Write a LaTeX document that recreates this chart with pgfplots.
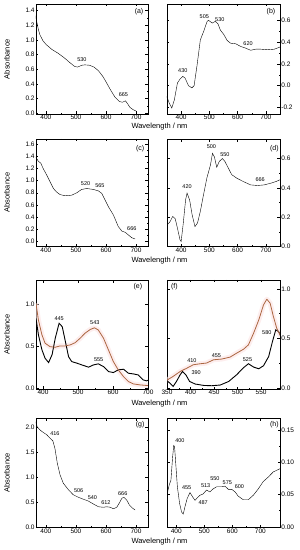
\documentclass[border=0pt]{standalone}
\usepackage{fontspec}
\setmainfont{Liberation Sans}
\usepackage{pgfplots}
\pgfplotsset{compat=1.18}
\definecolor{brn}{RGB}{172,102,66}
\definecolor{halo}{RGB}{252,226,226}
\tikzset{
 ann/.style={font=\fontsize{5.5}{6}\selectfont, inner sep=0pt},
 lett/.style={font=\fontsize{7}{8}\selectfont, inner sep=0pt},
}
\pgfplotsset{
 panel/.style={
  scale only axis,
  axis line style={line width=0.6pt},
  tick align=inside,
  major tick length=2.5pt,
  minor tick length=1.4pt,
  every tick/.style={line width=0.45pt, black},
  xtick pos=both, ytick pos=both,
  minor x tick num=1,
  minor y tick num=1,
  tick label style={font=\fontsize{6.5}{7}\selectfont, inner sep=1.2pt},
  /pgf/number format/assume math mode=true,
  y tick label style={/pgf/number format/fixed, /pgf/number format/precision=1, /pgf/number format/fixed zerofill},
  cycle list={{black, line width=0.9pt, no marks, line join=round}},
 },
 leftp/.style={panel, width=112pt, ylabel={Absorbance},
   every axis y label/.style={at={(axis description cs:-0.26,0.5)}, rotate=90, anchor=center, font=\fontsize{7.5}{9}\selectfont}},
 rightp/.style={panel, width=113pt, yticklabel pos=right},
 brnline/.style={brn, line width=0.8pt, no marks, line join=round},
 haloline/.style={halo, line width=5pt, opacity=0.6, no marks, line join=round},
}
\begin{document}
\begin{tikzpicture}
\useasboundingbox (0,0) rectangle (300pt,550pt);
% ---------- (a)
\begin{axis}[leftp, at={(36pt,436pt)}, anchor=south west, height=110pt,
  xmin=367, xmax=740, ymin=-0.01, ymax=1.49,
  xtick={400,500,600,700}, ytick={0,0.2,...,1.4}]
\addplot coordinates {(366,1.33)(370,1.24)(375,1.14)(380,1.07)(390,0.99)(400,0.94)(420,0.87)(440,0.82)(460,0.76)(480,0.69)(495,0.64)(505,0.63)(520,0.655)(530,0.66)(545,0.655)(560,0.63)(575,0.58)(590,0.50)(600,0.43)(615,0.32)(630,0.22)(645,0.16)(655,0.15)(665,0.17)(672,0.13)(680,0.08)(690,0.05)(700,0.03)};
\node[ann] at (axis cs:520,0.73) {530};
\node[ann] at (axis cs:658,0.25) {665};
\node[lett] at (rel axis cs:0.92,0.93) {(a)};
\end{axis}
% ---------- (b)
\begin{axis}[rightp, at={(167pt,436pt)}, anchor=south west, height=110pt,
  xmin=350, xmax=750, ymin=-0.26, ymax=0.75,
  xtick={400,500,600,700}, ytick={-0.2,0,0.2,0.4,0.6}]
\addplot coordinates {(349,-0.098)(358,-0.16)(367,-0.205)(376,-0.13)(387,0.025)(396,0.06)(406,0.085)(414,0.07)(426,0.0)(438,-0.02)(446,0.0)(456,0.18)(468,0.42)(480,0.50)(492,0.59)(497,0.60)(510,0.575)(521,0.59)(530,0.57)(539,0.51)(551,0.47)(563,0.415)(575,0.39)(593,0.385)(611,0.36)(628,0.345)(646,0.325)(664,0.335)(682,0.335)(706,0.33)(730,0.335)(750,0.355)};
\node[ann] at (axis cs:406,0.14) {430};
\node[ann] at (axis cs:482,0.63) {505};
\node[ann] at (axis cs:537,0.61) {530};
\node[ann] at (axis cs:637,0.385) {620};
\node[lett] at (rel axis cs:0.92,0.93) {(b)};
\end{axis}
% ---------- (c)
\begin{axis}[leftp, at={(36pt,303.5pt)}, anchor=south west, height=107.5pt,
  xmin=367, xmax=740, ymin=-0.09, ymax=1.69,
  xtick={400,500,600,700}, ytick={0,0.2,...,1.6}]
\addplot coordinates {(367,1.385)(375,1.32)(383,1.29)(391,1.20)(403,1.09)(414,0.98)(425,0.87)(436,0.81)(447,0.77)(464,0.75)(486,0.76)(503,0.80)(519,0.855)(536,0.87)(558,0.855)(575,0.83)(586,0.79)(597,0.68)(608,0.57)(625,0.43)(641,0.24)(653,0.165)(664,0.145)(675,0.10)(686,0.055)(697,0.035)};
\node[ann] at (axis cs:532,0.955) {520};
\node[ann] at (axis cs:580,0.91) {565};
\node[ann] at (axis cs:686,0.21) {666};
\node[lett] at (rel axis cs:0.93,0.91) {(c)};
\end{axis}
% ---------- (d)
\begin{axis}[rightp, at={(167pt,303.5pt)}, anchor=south west, height=107.5pt,
  xmin=350, xmax=750, ymin=0, ymax=0.733,
  xtick={400,500,600,700}, ytick={0,0.2,0.4,0.6}]
\addplot coordinates {(351,0.148)(361,0.17)(370,0.205)(379,0.19)(387,0.125)(396,0.046)(400,0.034)(407,0.148)(416,0.32)(421,0.364)(430,0.318)(439,0.216)(449,0.136)(458,0.16)(468,0.24)(479,0.35)(491,0.466)(504,0.557)(511,0.636)(518,0.61)(526,0.54)(535,0.58)(546,0.60)(555,0.58)(567,0.535)(579,0.49)(597,0.466)(620,0.443)(646,0.42)(670,0.416)(694,0.42)(718,0.432)(736,0.443)(750,0.455)};
\node[ann] at (axis cs:421,0.405) {420};
\node[ann] at (axis cs:507,0.68) {500};
\node[ann] at (axis cs:555,0.63) {550};
\node[ann] at (axis cs:680,0.455) {666};
\node[lett] at (rel axis cs:0.95,0.91) {(d)};
\end{axis}
% ---------- (e)
\begin{axis}[leftp, at={(36pt,161pt)}, anchor=south west, height=109pt,
  xmin=380, xmax=700, ymin=-0.01, ymax=1.29,
  xtick={400,500,600,700}, ytick={0,0.5,1.0}]
\addplot[haloline] coordinates {(380,1.01)(387,0.81)(397,0.635)(406,0.536)(420,0.495)(435,0.488)(449,0.504)(463,0.504)(478,0.516)(492,0.543)(506,0.595)(520,0.655)(535,0.70)(547,0.72)(558,0.694)(573,0.595)(587,0.456)(601,0.317)(615,0.218)(630,0.138)(644,0.079)(658,0.051)(677,0.039)(700,0.031)};
\addplot coordinates {(380,0.833)(387,0.635)(397,0.456)(406,0.357)(416,0.305)(426,0.40)(435,0.595)(446,0.774)(455,0.733)(463,0.575)(473,0.376)(482,0.317)(497,0.298)(511,0.277)(520,0.265)(530,0.25)(544,0.277)(558,0.29)(573,0.257)(587,0.198)(601,0.186)(615,0.218)(630,0.226)(644,0.178)(658,0.17)(672,0.158)(686,0.099)(696,0.087)(700,0.095)};
\addplot[brnline] coordinates {(380,1.01)(387,0.81)(397,0.635)(406,0.536)(420,0.495)(435,0.488)(449,0.504)(463,0.504)(478,0.516)(492,0.543)(506,0.595)(520,0.655)(535,0.70)(547,0.72)(558,0.694)(573,0.595)(587,0.456)(601,0.317)(615,0.218)(630,0.138)(644,0.079)(658,0.051)(677,0.039)(700,0.031)};
\node[ann] at (axis cs:446,0.833) {445};
\node[ann] at (axis cs:548,0.78) {543};
\node[ann] at (axis cs:559,0.337) {555};
\node[lett] at (rel axis cs:0.91,0.94) {(e)};
\end{axis}
% ---------- (f)
\begin{axis}[rightp, at={(167pt,161pt)}, anchor=south west, height=109pt,
  xmin=350, xmax=590, ymin=-0.01, ymax=1.09,
  xtick={350,400,450,500,550}, ytick={0,0.5,1.0}]
\addplot[haloline] coordinates {(349,0.077)(363,0.117)(378,0.167)(392,0.20)(406,0.235)(421,0.245)(434,0.252)(449,0.285)(466,0.292)(484,0.312)(498,0.352)(513,0.393)(523,0.436)(534,0.554)(545,0.688)(555,0.839)(562,0.896)(569,0.856)(576,0.721)(583,0.604)(592,0.52)};
\addplot coordinates {(349,0.077)(356,0.05)(363,0.016)(370,0.066)(378,0.134)(383,0.167)(390,0.134)(398,0.066)(410,0.04)(428,0.026)(445,0.023)(463,0.03)(481,0.066)(498,0.134)(513,0.207)(523,0.245)(534,0.211)(545,0.194)(555,0.225)(566,0.318)(574,0.469)(581,0.587)(587,0.57)(592,0.52)};
\addplot[brnline] coordinates {(349,0.077)(363,0.117)(378,0.167)(392,0.20)(406,0.235)(421,0.245)(434,0.252)(449,0.285)(466,0.292)(484,0.312)(498,0.352)(513,0.393)(523,0.436)(534,0.554)(545,0.688)(555,0.839)(562,0.896)(569,0.856)(576,0.721)(583,0.604)(592,0.52)};
\node[ann] at (axis cs:403,0.278) {410};
\node[ann] at (axis cs:455,0.325) {455};
\node[ann] at (axis cs:412,0.157) {390};
\node[ann] at (axis cs:521,0.29) {525};
\node[ann] at (axis cs:562,0.56) {580};
\node[lett] at (rel axis cs:0.065,0.94) {(f)};
\end{axis}
% ---------- (g)
\begin{axis}[leftp, at={(36pt,22.5pt)}, anchor=south west, height=109.2pt,
  xmin=367, xmax=740, ymin=-0.005, ymax=2.18,
  xtick={400,500,600,700}, ytick={0,0.5,...,2.0}]
\addplot coordinates {(366,2.11)(371,2.01)(378,1.96)(388,1.91)(403,1.85)(414,1.78)(423,1.73)(430,1.58)(438,1.28)(447,1.05)(458,0.88)(475,0.75)(491,0.65)(508,0.60)(525,0.56)(541,0.525)(558,0.466)(575,0.41)(591,0.40)(603,0.41)(614,0.40)(625,0.37)(636,0.40)(645,0.49)(653,0.58)(660,0.60)(669,0.546)(678,0.446)(689,0.38)(697,0.346)};
\node[ann] at (axis cs:430,1.87) {416};
\node[ann] at (axis cs:509,0.726) {506};
\node[ann] at (axis cs:555,0.60) {540};
\node[ann] at (axis cs:600,0.50) {612};
\node[ann] at (axis cs:656,0.666) {666};
\node[lett] at (rel axis cs:0.93,0.94) {(g)};
\end{axis}
% ---------- (h)
\begin{axis}[rightp, at={(167pt,22.5pt)}, anchor=south west, height=109.2pt,
  xmin=367, xmax=770, ymin=-0.001, ymax=0.168,
  xtick={400,500,600,700}, ytick={0,0.05,0.10,0.15},
  y tick label style={/pgf/number format/precision=2}]
\addplot coordinates {(367,0.0)(367.5,0.036)(370,0.056)(375,0.065)(381,0.072)(387,0.108)(391,0.126)(394,0.124)(399,0.093)(404,0.062)(412,0.036)(419,0.023)(425,0.0197)(431,0.031)(439,0.044)(449,0.053)(459,0.046)(467,0.041)(475,0.045)(485,0.049)(496,0.051)(508,0.057)(520,0.054)(532,0.059)(544,0.062)(562,0.062)(574,0.063)(586,0.058)(598,0.058)(610,0.054)(621,0.0475)(639,0.042)(657,0.042)(675,0.049)(693,0.059)(710,0.07)(728,0.077)(746,0.085)(770,0.09)};
\node[ann] at (axis cs:413,0.134) {400};
\node[ann] at (axis cs:437,0.06) {455};
\node[ann] at (axis cs:496,0.038) {487};
\node[ann] at (axis cs:505,0.0645) {513};
\node[ann] at (axis cs:538,0.075) {550};
\node[ann] at (axis cs:582,0.068) {575};
\node[ann] at (axis cs:625,0.062) {600};
\node[lett] at (rel axis cs:0.95,0.94) {(h)};
\end{axis}
% ---------- x labels
\node[font=\fontsize{7.5}{9}\selectfont] at (159.5pt,423pt) {Wavelength / nm};
\node[font=\fontsize{7.5}{9}\selectfont] at (159.5pt,289pt) {Wavelength / nm};
\node[font=\fontsize{7.5}{9}\selectfont] at (159.5pt,146.5pt) {Wavelength / nm};
\node[font=\fontsize{7.5}{9}\selectfont] at (159.5pt,8.3pt) {Wavelength / nm};
\end{tikzpicture}
\end{document}
